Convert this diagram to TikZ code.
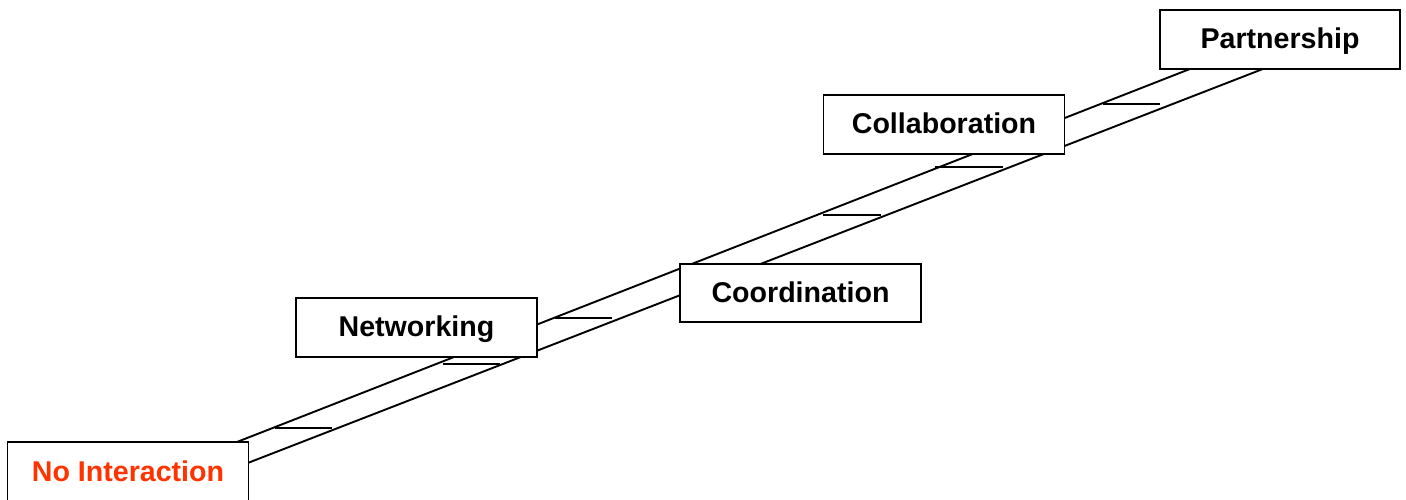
\documentclass[tikz,border=0pt]{standalone}
\usepackage{fontspec}
\setmainfont{Liberation Sans}
\definecolor{niRed}{RGB}{255,51,0}
\begin{document}
\begin{tikzpicture}[x=1pt,y=-1pt,
  stage/.style={draw=black,line width=1.8pt,fill=white,inner sep=0pt,outer sep=0pt,
    minimum width=241pt,minimum height=59pt,font=\bfseries\fontsize{28.6}{30}\selectfont,
    text height=22.5pt,text depth=4pt},
  rail/.style={line width=1.9pt,black},
  rung/.style={line width=1.9pt,black}]
\useasboundingbox (0,0) rectangle (1406,500);
% rails
\coordinate (ua) at (230,444.7);
\coordinate (ub) at (1195,67);
\coordinate (la) at (240,466);
\coordinate (lb) at (1268,67);
\draw[rail] (ua) -- (ub);
\draw[rail] (la) -- (lb);
% rungs
\foreach \xa/\xb/\yy [count=\i] in {275/332/428,443/500/364,555/612/318,823/881/215,935/1003/167,1103/1160/104}{
  \coordinate (r\i a) at (\xa,\yy);
  \coordinate (r\i b) at (\xb,\yy);
  \draw[rung] (r\i a) -- (r\i b);
}
% stages
\node[stage,text=niRed,minimum height=60pt] (noint) at (128,472) {No Interaction};
\node[stage] (netw) at (416.5,327.5) {Networking};
\node[stage,minimum height=58pt] (coord) at (800.5,293) {Coordination};
\node[stage] (collab) at (944,124.5) {Collaboration};
\node[stage,minimum width=240pt] (partner) at (1280,39.5) {Partnership};
\end{tikzpicture}
\end{document}
